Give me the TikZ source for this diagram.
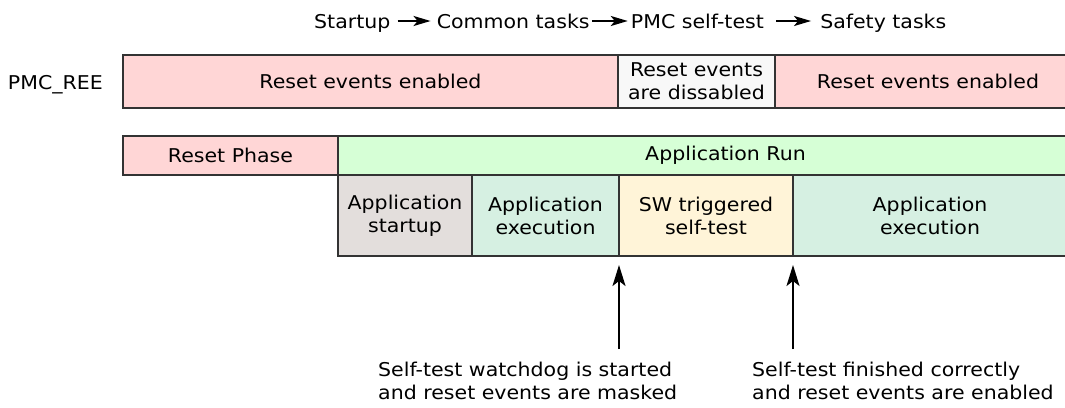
\documentclass[tikz,border=0pt]{standalone}
\usepackage{fontspec}
\setmainfont{DejaVu Sans}[FakeStretch=1.08]
\usetikzlibrary{arrows.meta}
\definecolor{pinkbox}{HTML}{FFD6D6}
\definecolor{greenrun}{HTML}{D6FFD6}
\definecolor{graybox}{HTML}{E3DEDC}
\definecolor{mintbox}{HTML}{D6F0E2}
\definecolor{creambox}{HTML}{FFF4D8}
\definecolor{whitebox}{HTML}{F8F8F8}
\definecolor{edgecol}{HTML}{333333}
\begin{document}
\begin{tikzpicture}[x=1pt,y=-1pt,
  txt/.style={font=\fontsize{19pt}{23pt}\selectfont, text=black},
  cell/.style={txt, draw=edgecol, line width=1.2pt, inner sep=0pt, outer sep=0pt, anchor=north west, align=center},
  marker/.style={line width=2pt, -{Stealth[length=21pt,width=13pt,inset=5pt]}},
  flow/.style={line width=2pt, -{Stealth[length=17pt,width=10pt,inset=4pt]}},
  hdr/.style={txt, inner sep=0pt, anchor=base west},
]
\useasboundingbox[fill=white] (0,0) rectangle (1065,407);

% header
\node[hdr] (h1) at (314,28) {Startup};
\node[hdr] (h2) at ([xshift=46pt]h1.base east) {Common tasks};
\node[hdr] (h3) at ([xshift=41pt]h2.base east) {PMC self-test};
\node[hdr] (h4) at ([xshift=56pt]h3.base east) {Safety tasks};
\draw[flow, shorten <=7pt, shorten >=6pt] ([yshift=7pt]h1.base east) -- ([yshift=7pt]h2.base west);
\draw[flow, shorten <=2pt, shorten >=3pt] ([yshift=7pt]h2.base east) -- ([yshift=7pt]h3.base west);
\draw[flow, shorten <=12pt, shorten >=9pt] ([yshift=7pt]h3.base east) -- ([yshift=7pt]h4.base west);

% PMC_REE row
\node[txt, anchor=base east, inner sep=0pt] (lbl) at (103,89) {PMC\_REE};
\node[cell, fill=pinkbox, minimum width=495pt, minimum height=53pt] (ree1) at (123,55) {Reset events enabled};
\node[cell, fill=whitebox, minimum width=157pt, minimum height=53pt] (ree2) at (618,55) {Reset events\\are dissabled};
\node[cell, fill=pinkbox, minimum width=306pt, minimum height=53pt] (ree3) at (775,55) {Reset events enabled};

% phase row
\node[cell, fill=pinkbox, minimum width=215pt, minimum height=39pt] (reset) at (123,136) {Reset Phase};
\node[cell, fill=greenrun, minimum width=775pt, minimum height=39pt] (run) at (338,136) {Application Run};

% application row
\node[cell, fill=graybox, minimum width=134pt, minimum height=81pt] (startup) at (338,175) {Application\\startup};
\node[cell, fill=mintbox, minimum width=147pt, minimum height=81pt] (exec1) at (472,175) {Application\\execution};
\node[cell, fill=creambox, minimum width=174pt, minimum height=81pt] (selftest) at (619,175) {SW triggered\\self-test};
\node[cell, fill=mintbox, minimum width=274pt, minimum height=81pt] (exec2) at (793,175) {Application\\execution};

% markers
\coordinate (a1) at (619,349);
\coordinate (a2) at (793,349);
\draw[marker, shorten >=9pt] (a1) -- (exec1.south east);
\draw[marker, shorten >=9pt] (a2) -- (selftest.south east);

\node[txt, anchor=north west, inner sep=0pt, align=left] (n1) at (378,362) {Self-test watchdog is started\\and reset events are masked};
\node[txt, anchor=north west, inner sep=0pt, align=left] (n2) at (752,362) {Self-test finished correctly\\and reset events are enabled};
\end{tikzpicture}
\end{document}
